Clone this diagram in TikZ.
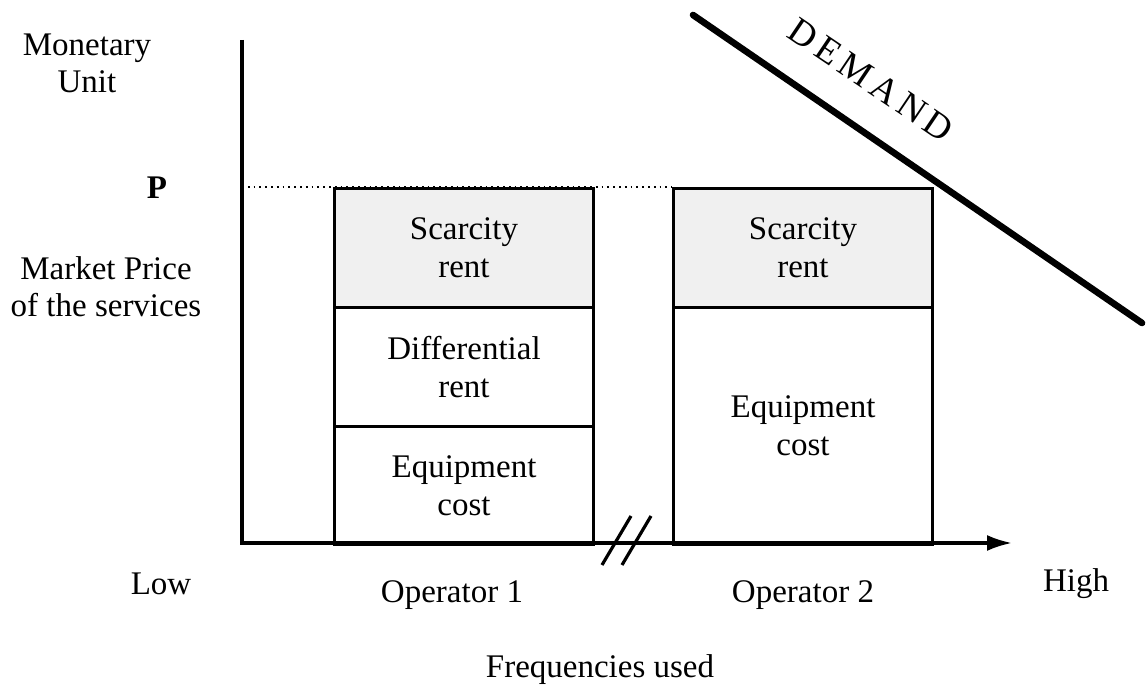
\documentclass[tikz,border=0pt]{standalone}
\usepackage{fontspec}
\setmainfont{Liberation Serif}
\usetikzlibrary{arrows.meta}

\begin{document}
\begin{tikzpicture}[x=0.5pt, y=-0.5pt]
  % Colors
  \definecolor{rentcol}{RGB}{240,240,240}
  %
  \tikzset{
    lbl/.style={font=\fontsize{16.5}{18.5}\selectfont, align=center, inner sep=0pt},
    cell/.style={draw, line width=1.5pt, anchor=north west, minimum width=129.5pt,
                 inner sep=0pt, font=\fontsize{16.5}{19}\selectfont, align=center},
    axis/.style={line width=1.6pt},
  }
  %
  \useasboundingbox (0,0) rectangle (1146,688);
  %
  % === AXES ===
  \coordinate (ytop) at (242,40);
  \coordinate (origin) at (242,543);
  \coordinate (xend) at (1012,543);
  \coordinate (pline) at (242,187);
  \draw[axis, -{Latex[length=12.5pt, width=8pt]}] (ytop) -- (origin) -- (xend);
  %
  % === PRICE LEVEL (dotted) ===
  \coordinate (pgap) at (672,187);
  \draw[dotted, line width=0.9pt] (pline) -- (pgap);
  %
  % === OPERATOR 1 STACK ===
  \node[cell, fill=rentcol, minimum height=59.5pt] (scar1) at (333,187) {Scarcity\\rent};
  \node[cell, minimum height=59.5pt] (diff1) at (333,306) {Differential\\rent};
  \node[cell, minimum height=59pt] (equip1) at (333,425) {Equipment\\cost};
  %
  % === OPERATOR 2 STACK ===
  \node[cell, fill=rentcol, minimum height=59.5pt] (scar2) at (672,187) {Scarcity\\rent};
  \node[cell, minimum height=118.5pt] (equip2) at (672,306) {Equipment\\cost};
  %
  % === AXIS BREAK ===
  \foreach \dx in {0,20} {
    \draw[line width=1.6pt] ({602+\dx},565) -- ({631+\dx},516);
  }
  %
  % === DEMAND CURVE ===
  \coordinate (dhi) at (693,15);
  \coordinate (dlo) at (1142,323);
  \draw[line width=3.3pt, line cap=round] (dhi) -- (dlo);
  \node[lbl, rotate=-34, font=\fontsize{18.5}{20}\selectfont] (demand) at (871,80)
    {\addfontfeature{LetterSpace=15}DEMAND};
  %
  % === LABELS ===
  \node[lbl] (money) at (87,63) {Monetary\\Unit};
  \node[lbl, font=\fontsize{16.5}{18.5}\selectfont\bfseries] (price) at (157,188) {P};
  \node[lbl] (market) at (106,287) {Market Price\\of the services};
  \node[lbl] (low) at (161,584) {Low};
  \node[lbl] (op1) at (452,595) {Operator 1};
  \node[lbl] (op2) at (803,595) {Operator 2};
  \node[lbl] (high) at (1076,584) {High};
  \node[lbl] (freq) at (600,670) {Frequencies used};
  %
\end{tikzpicture}
\end{document}
